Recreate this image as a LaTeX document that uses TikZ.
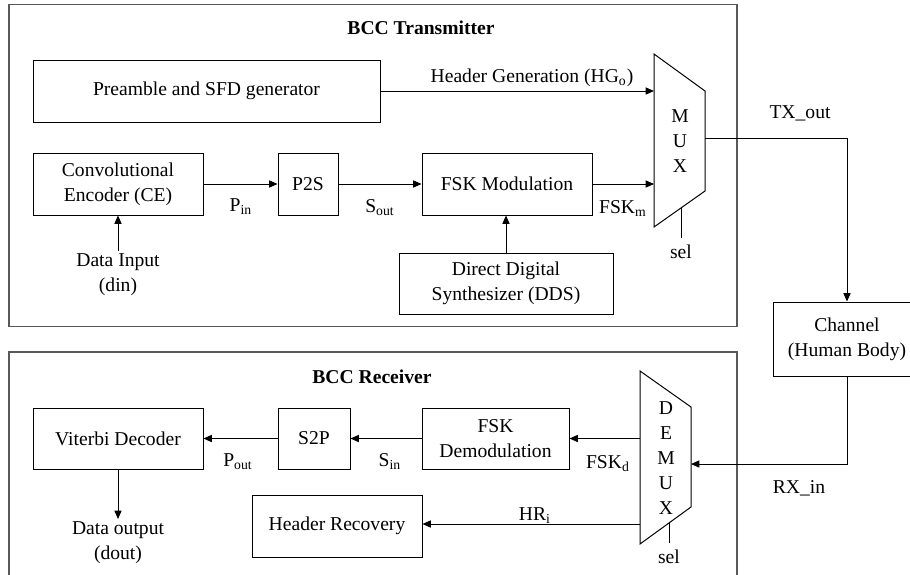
\documentclass[tikz,border=0pt]{standalone}
\usepackage{fontspec}
\setmainfont{Liberation Serif}
\usetikzlibrary{arrows.meta}

\tikzset{
  blk/.style 2 args={draw, align=center, inner sep=1pt,
    minimum width=#1*0.5pt, minimum height=#2*0.5pt},
  frame/.style={draw=black!65, line width=0.8pt},
  wire/.style={-{Triangle[length=4.2pt,width=3.6pt]}},
  lbl/.style={anchor=base, inner sep=0pt},
}

\begin{document}
\begin{tikzpicture}[x=0.5pt, y=-0.5pt, line width=0.5pt,
    font=\fontsize{9.8}{12.5}\selectfont]
  \useasboundingbox (0,0) rectangle (910,574);
  \clip (0,0) rectangle (910,574);

  % transmitter and receiver frames
  \draw[frame] (9,4.5) rectangle (737,326.5);
  \draw[frame] (9,352) rectangle (737,620);
  \node[font=\fontsize{9.8}{12.5}\selectfont\bfseries] (txtitle) at (421,28) {BCC Transmitter};
  \node[font=\fontsize{9.8}{12.5}\selectfont\bfseries] (rxtitle) at (372,377) {BCC Receiver};

  % transmitter blocks
  \node[blk={347}{62}] (pre) at (206.5,91) {Preamble and SFD generator};
  \node[blk={170}{62}] (ce) at (118,184) {Convolutional\\Encoder (CE)};
  \node[blk={60}{62}] (p2s) at (308,184) {P2S};
  \node[blk={170}{62}] (fskm) at (507,184) {FSK Modulation};
  \node[blk={214}{61}] (dds) at (506,283.5) {Direct Digital\\Synthesizer (DDS)};
  \node[align=center, inner sep=1pt] (din) at (118,274.5) {Data Input\\(din)};

  % multiplexer
  \coordinate (mux1) at (654,54);
  \coordinate (mux2) at (705,91);
  \coordinate (mux3) at (705,191);
  \coordinate (mux4) at (654,227);
  \draw (mux1) -- (mux2) -- (mux3) -- (mux4) -- cycle;
  \node[align=center, inner sep=0pt] (muxtxt) at (680,141) {M\\U\\X};
  \coordinate (muxout) at (705,138);
  \coordinate (muxsel) at (681,208);
  \node (txsel) at (681,252) {sel};

  % channel
  \node[blk={148}{74}] (chan) at (847,339) {Channel\\(Human Body)};

  % receiver blocks
  \node[blk={170}{61}] (vit) at (118,438.5) {Viterbi Decoder};
  \node[blk={72}{61}] (s2p) at (314,438.5) {S2P};
  \node[blk={147}{61}] (fskd) at (495.5,438.5) {FSK\\Demodulation};
  \node[blk={170}{62}] (hr) at (337,526) {Header Recovery};
  \node[align=center, inner sep=1pt] (dout) at (118,542.5) {Data output\\(dout)};

  % demultiplexer
  \coordinate (dmx1) at (640,371);
  \coordinate (dmx2) at (691,407);
  \coordinate (dmx3) at (691,507);
  \coordinate (dmx4) at (640,544);
  \draw (dmx1) -- (dmx2) -- (dmx3) -- (dmx4) -- cycle;
  \node[align=center, inner sep=0pt] (dmxtxt) at (666,458) {D\\E\\M\\U\\X};
  \coordinate (dmxin) at (691,464);
  \coordinate (dmxsel) at (669,523);
  \node (rxsel) at (669,557) {sel};

  % transmitter wiring
  \draw[wire] (pre.east) -- (pre.east -| mux1);
  \draw[wire] (din.north) -- (ce.south);
  \draw[wire] (ce.east) -- (p2s.west);
  \draw[wire] (p2s.east) -- (fskm.west);
  \draw[wire] (fskm.east) -- (fskm.east -| mux1);
  \draw[wire] (dds.north) -- (dds.north |- fskm.south);
  \draw (muxsel) -- (txsel.north);
  \draw[wire] (muxout) -| (chan.north);

  % receiver wiring
  \draw[wire] (chan.south) |- (dmxin);
  \draw[wire] (fskd.east -| dmx1) -- (fskd.east);
  \draw[wire] (fskd.west) -- (s2p.east);
  \draw[wire] (s2p.west) -- (vit.east);
  \draw[wire] (vit.south) -- (dout.north);
  \draw[wire] (640,524) -- (hr.east |- 0,524);
  \draw (dmxsel) -- (rxsel.north);

  % signal names
  \node[lbl] (hgo) at (532,82) {Header Generation (HG\textsubscript{o})};
  \node[lbl] (pin) at (241,211) {P\textsubscript{in}};
  \node[lbl] (sout) at (380,212) {S\textsubscript{out}};
  \node[lbl] (fskmlbl) at (623,213) {FSK\textsubscript{m}};
  \node[lbl] (txout) at (800,118) {TX\_out};
  \node[lbl] (rxin) at (799,493) {RX\_in};
  \node[lbl] (pout) at (238,466) {P\textsubscript{out}};
  \node[lbl] (sin) at (390,466) {S\textsubscript{in}};
  \node[lbl] (fskdlbl) at (608,468) {FSK\textsubscript{d}};
  \node[lbl] (hri) at (535,520) {HR\textsubscript{i}};
\end{tikzpicture}
\end{document}
